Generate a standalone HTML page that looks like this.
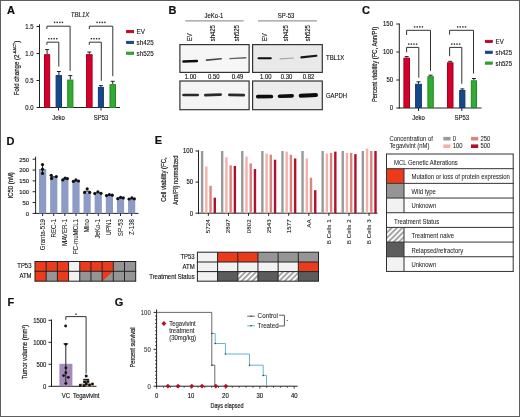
<!DOCTYPE html>
<html><head><meta charset="utf-8"><style>
html,body{margin:0;padding:0;background:#fff;}
#fig{position:relative;width:520px;height:417px;overflow:hidden;background:#fff;}
#fig svg{position:absolute;left:0;top:0;will-change:transform;}
#frame{position:absolute;left:0;top:0;width:518px;height:415px;border:1px solid #5e5e5e;}
text{font-family:"Liberation Sans", sans-serif;}
</style></head><body>
<div id="fig">
<svg width="520" height="417" viewBox="0 0 520 417" font-family="Liberation Sans, sans-serif">
<text x="0" y="0" transform="translate(7.1 14.2)" font-size="11" text-anchor="start" font-weight="bold" font-style="normal" fill="#111" stroke="#111" stroke-width="0.2" >A</text>
<text x="0" y="0" transform="translate(80.1 17.0) scale(0.92 1)" font-size="6.6" text-anchor="middle" font-weight="normal" font-style="italic" fill="#151515" stroke="#151515" stroke-width="0.12" >TBL1X</text>
<line x1="39.5" y1="24.3" x2="39.5" y2="108" stroke="#222" stroke-width="1" />
<line x1="39" y1="107.5" x2="120" y2="107.5" stroke="#222" stroke-width="1" />
<line x1="36.5" y1="107.5" x2="39.5" y2="107.5" stroke="#222" stroke-width="1" />
<text x="0" y="0" transform="translate(33.5 109.5) scale(0.93 1)" font-size="6.4" text-anchor="end" font-weight="normal" font-style="normal" fill="#151515" stroke="#151515" stroke-width="0.14" >0.0</text>
<line x1="36.5" y1="80.5" x2="39.5" y2="80.5" stroke="#222" stroke-width="1" />
<text x="0" y="0" transform="translate(33.5 82.5) scale(0.93 1)" font-size="6.4" text-anchor="end" font-weight="normal" font-style="normal" fill="#151515" stroke="#151515" stroke-width="0.14" >0.5</text>
<line x1="36.5" y1="53.5" x2="39.5" y2="53.5" stroke="#222" stroke-width="1" />
<text x="0" y="0" transform="translate(33.5 55.5) scale(0.93 1)" font-size="6.4" text-anchor="end" font-weight="normal" font-style="normal" fill="#151515" stroke="#151515" stroke-width="0.14" >1.0</text>
<line x1="36.5" y1="26.5" x2="39.5" y2="26.5" stroke="#222" stroke-width="1" />
<text x="0" y="0" transform="translate(33.5 28.5) scale(0.93 1)" font-size="6.4" text-anchor="end" font-weight="normal" font-style="normal" fill="#151515" stroke="#151515" stroke-width="0.14" >1.5</text>
<text x="0" y="0" transform="translate(19.2 68.0) rotate(-90) scale(0.888 1)" font-size="6.9" text-anchor="middle" font-weight="normal" font-style="normal" fill="#222" stroke="#222" stroke-width="0.2" >Fold change (2<tspan font-size="4.4" dy="-2.8">-ΔΔCT</tspan><tspan dy="2.8">)</tspan></text>
<line x1="47.1" y1="54.2" x2="47.1" y2="49.6" stroke="#222" stroke-width="1" />
<line x1="45.1" y1="49.6" x2="49.1" y2="49.6" stroke="#222" stroke-width="1" />
<rect x="44.5" y="54.7" width="5.200000000000003" height="52.8" fill="#d2002a" stroke="#a50020" stroke-width="1" />
<line x1="58.9" y1="75.1" x2="58.9" y2="71.5" stroke="#222" stroke-width="1" />
<line x1="56.9" y1="71.5" x2="60.9" y2="71.5" stroke="#222" stroke-width="1" />
<rect x="56.1" y="75.6" width="5.399999999999999" height="31.900000000000006" fill="#17488c" stroke="#123a72" stroke-width="1" />
<line x1="70.3" y1="79.6" x2="70.3" y2="75.6" stroke="#222" stroke-width="1" />
<line x1="68.3" y1="75.6" x2="72.3" y2="75.6" stroke="#222" stroke-width="1" />
<rect x="67.7" y="80.1" width="5.200000000000003" height="27.400000000000006" fill="#31ab33" stroke="#228a22" stroke-width="1" />
<line x1="89.3" y1="54.2" x2="89.3" y2="52.0" stroke="#222" stroke-width="1" />
<line x1="87.3" y1="52.0" x2="91.3" y2="52.0" stroke="#222" stroke-width="1" />
<rect x="86.5" y="54.7" width="5.599999999999994" height="52.8" fill="#d2002a" stroke="#a50020" stroke-width="1" />
<line x1="100.9" y1="86.9" x2="100.9" y2="85.6" stroke="#222" stroke-width="1" />
<line x1="98.9" y1="85.6" x2="102.9" y2="85.6" stroke="#222" stroke-width="1" />
<rect x="98.4" y="87.4" width="5.0" height="20.099999999999994" fill="#17488c" stroke="#123a72" stroke-width="1" />
<line x1="112.7" y1="84.2" x2="112.7" y2="81.3" stroke="#222" stroke-width="1" />
<line x1="110.7" y1="81.3" x2="114.7" y2="81.3" stroke="#222" stroke-width="1" />
<rect x="110.0" y="84.7" width="5.5" height="22.799999999999997" fill="#31ab33" stroke="#228a22" stroke-width="1" />
<line x1="58.5" y1="107.5" x2="58.5" y2="110.5" stroke="#222" stroke-width="1" />
<line x1="101" y1="107.5" x2="101" y2="110.5" stroke="#222" stroke-width="1" />
<text x="0" y="0" transform="translate(58.5 119.5) scale(0.93 1)" font-size="6.4" text-anchor="middle" font-weight="normal" font-style="normal" fill="#151515" stroke="#151515" stroke-width="0.14" >Jeko</text>
<text x="0" y="0" transform="translate(101 119.5) scale(0.93 1)" font-size="6.4" text-anchor="middle" font-weight="normal" font-style="normal" fill="#151515" stroke="#151515" stroke-width="0.14" >SP53</text>
<path d="M46.9 29.0 V26.2 H70.1 V70.8" stroke="#333" stroke-width="1" fill="none" />
<rect x="53.875" y="21.674999999999997" width="1.45" height="1.45" fill="#333" stroke="none" stroke-width="0" />
<rect x="56.475" y="21.674999999999997" width="1.45" height="1.45" fill="#333" stroke="none" stroke-width="0" />
<rect x="59.075" y="21.674999999999997" width="1.45" height="1.45" fill="#333" stroke="none" stroke-width="0" />
<rect x="61.675000000000004" y="21.674999999999997" width="1.45" height="1.45" fill="#333" stroke="none" stroke-width="0" />
<path d="M46.9 44.8 V42.2 H58.8 V66.5" stroke="#333" stroke-width="1" fill="none" />
<rect x="48.175" y="37.975" width="1.45" height="1.45" fill="#333" stroke="none" stroke-width="0" />
<rect x="50.775" y="37.975" width="1.45" height="1.45" fill="#333" stroke="none" stroke-width="0" />
<rect x="53.375" y="37.975" width="1.45" height="1.45" fill="#333" stroke="none" stroke-width="0" />
<rect x="55.975" y="37.975" width="1.45" height="1.45" fill="#333" stroke="none" stroke-width="0" />
<path d="M89.3 29.0 V26.2 H112.8 V76.2" stroke="#333" stroke-width="1" fill="none" />
<rect x="96.375" y="21.674999999999997" width="1.45" height="1.45" fill="#333" stroke="none" stroke-width="0" />
<rect x="98.975" y="21.674999999999997" width="1.45" height="1.45" fill="#333" stroke="none" stroke-width="0" />
<rect x="101.575" y="21.674999999999997" width="1.45" height="1.45" fill="#333" stroke="none" stroke-width="0" />
<rect x="104.175" y="21.674999999999997" width="1.45" height="1.45" fill="#333" stroke="none" stroke-width="0" />
<path d="M89.3 44.8 V42.2 H101.3 V80.8" stroke="#333" stroke-width="1" fill="none" />
<rect x="90.675" y="37.975" width="1.45" height="1.45" fill="#333" stroke="none" stroke-width="0" />
<rect x="93.27499999999999" y="37.975" width="1.45" height="1.45" fill="#333" stroke="none" stroke-width="0" />
<rect x="95.875" y="37.975" width="1.45" height="1.45" fill="#333" stroke="none" stroke-width="0" />
<rect x="98.475" y="37.975" width="1.45" height="1.45" fill="#333" stroke="none" stroke-width="0" />
<rect x="126.6" y="30.5" width="7" height="2.2" fill="#d2002a" stroke="#a50020" stroke-width="0.8" />
<text x="0" y="0" transform="translate(136.6 34.0) scale(0.95 1)" font-size="6.6" text-anchor="start" font-weight="normal" font-style="normal" fill="#151515" stroke="#151515" stroke-width="0.12" >EV</text>
<rect x="126.6" y="41.300000000000004" width="7" height="2.2" fill="#17488c" stroke="#123a72" stroke-width="0.8" />
<text x="0" y="0" transform="translate(136.6 44.800000000000004) scale(0.95 1)" font-size="6.6" text-anchor="start" font-weight="normal" font-style="normal" fill="#151515" stroke="#151515" stroke-width="0.12" >sh425</text>
<rect x="126.6" y="52.1" width="7" height="2.2" fill="#31ab33" stroke="#228a22" stroke-width="0.8" />
<text x="0" y="0" transform="translate(136.6 55.6) scale(0.95 1)" font-size="6.6" text-anchor="start" font-weight="normal" font-style="normal" fill="#151515" stroke="#151515" stroke-width="0.12" >sh525</text>
<text x="0" y="0" transform="translate(168.55 14.0)" font-size="11" text-anchor="start" font-weight="bold" font-style="normal" fill="#111" stroke="#111" stroke-width="0.2" >B</text>
<defs><filter id="bl" filterUnits="userSpaceOnUse" x="0" y="0" width="520" height="417"><feGaussianBlur stdDeviation="0.4"/></filter></defs>
<text x="0" y="0" transform="translate(214 17.8) scale(0.93 1)" font-size="6.4" text-anchor="middle" font-weight="normal" font-style="normal" fill="#151515" stroke="#151515" stroke-width="0.14" >JeKo-1</text>
<line x1="185.3" y1="20.8" x2="243.7" y2="20.8" stroke="#999" stroke-width="1.2" />
<text x="0" y="0" transform="translate(192.1 41.3) rotate(-90) scale(0.93 1)" font-size="6.4" text-anchor="start" font-weight="normal" font-style="normal" fill="#151515" stroke="#151515" stroke-width="0.14" >EV</text>
<text x="0" y="0" transform="translate(215.4 41.3) rotate(-90) scale(0.93 1)" font-size="6.4" text-anchor="start" font-weight="normal" font-style="normal" fill="#151515" stroke="#151515" stroke-width="0.14" >sh425</text>
<text x="0" y="0" transform="translate(239.1 41.3) rotate(-90) scale(0.93 1)" font-size="6.4" text-anchor="start" font-weight="normal" font-style="normal" fill="#151515" stroke="#151515" stroke-width="0.14" >sh525</text>
<rect x="179.9" y="44.6" width="69.19999999999997" height="27.8" fill="#f6f6f6" stroke="#333" stroke-width="1.2" />
<rect x="179.9" y="81.0" width="69.19999999999997" height="28.7" fill="#f4f4f4" stroke="#333" stroke-width="1.2" />
<text x="0" y="0" transform="translate(190.5 79.3) scale(0.93 1)" font-size="6.4" text-anchor="middle" font-weight="normal" font-style="normal" fill="#151515" stroke="#151515" stroke-width="0.14" >1.00</text>
<text x="0" y="0" transform="translate(213.8 79.3) scale(0.93 1)" font-size="6.4" text-anchor="middle" font-weight="normal" font-style="normal" fill="#151515" stroke="#151515" stroke-width="0.14" >0.50</text>
<text x="0" y="0" transform="translate(237.5 79.3) scale(0.93 1)" font-size="6.4" text-anchor="middle" font-weight="normal" font-style="normal" fill="#151515" stroke="#151515" stroke-width="0.14" >0.49</text>
<path d="M183.45 61.4 L196.85 61.0" stroke="#111" stroke-width="2.5" stroke-linecap="round" fill="none" filter="url(#bl)"/>
<path d="M206.5 60.1 L221.2 58.8" stroke="#4a4a4a" stroke-width="1.6" stroke-linecap="round" fill="none" filter="url(#bl)"/>
<path d="M229.89999999999998 58.6 L245.8 57.8" stroke="#606060" stroke-width="1.4" stroke-linecap="round" fill="none" filter="url(#bl)"/>
<path d="M183.54999999999998 95.0 L197.65 95.0" stroke="#2a2a2a" stroke-width="2.7" stroke-linecap="round" fill="none" filter="url(#bl)"/>
<path d="M205.35 95.1 L220.65 94.6" stroke="#2a2a2a" stroke-width="2.7" stroke-linecap="round" fill="none" filter="url(#bl)"/>
<path d="M229.35 94.9 L243.75 95.2" stroke="#2a2a2a" stroke-width="2.7" stroke-linecap="round" fill="none" filter="url(#bl)"/>
<text x="0" y="0" transform="translate(286 17.8) scale(0.93 1)" font-size="6.4" text-anchor="middle" font-weight="normal" font-style="normal" fill="#151515" stroke="#151515" stroke-width="0.14" >SP-53</text>
<line x1="258.0" y1="20.8" x2="316.9" y2="20.8" stroke="#999" stroke-width="1.2" />
<text x="0" y="0" transform="translate(267.40000000000003 41.3) rotate(-90) scale(0.93 1)" font-size="6.4" text-anchor="start" font-weight="normal" font-style="normal" fill="#151515" stroke="#151515" stroke-width="0.14" >EV</text>
<text x="0" y="0" transform="translate(288.1 41.3) rotate(-90) scale(0.93 1)" font-size="6.4" text-anchor="start" font-weight="normal" font-style="normal" fill="#151515" stroke="#151515" stroke-width="0.14" >sh425</text>
<text x="0" y="0" transform="translate(310.1 41.3) rotate(-90) scale(0.93 1)" font-size="6.4" text-anchor="start" font-weight="normal" font-style="normal" fill="#151515" stroke="#151515" stroke-width="0.14" >sh525</text>
<rect x="252.6" y="44.6" width="69.69999999999997" height="27.8" fill="#e9e9e9" stroke="#333" stroke-width="1.2" />
<rect x="252.6" y="81.0" width="69.69999999999997" height="28.7" fill="#ececec" stroke="#333" stroke-width="1.2" />
<text x="0" y="0" transform="translate(265.8 79.3) scale(0.93 1)" font-size="6.4" text-anchor="middle" font-weight="normal" font-style="normal" fill="#151515" stroke="#151515" stroke-width="0.14" >1.00</text>
<text x="0" y="0" transform="translate(286.5 79.3) scale(0.93 1)" font-size="6.4" text-anchor="middle" font-weight="normal" font-style="normal" fill="#151515" stroke="#151515" stroke-width="0.14" >0.30</text>
<text x="0" y="0" transform="translate(308.5 79.3) scale(0.93 1)" font-size="6.4" text-anchor="middle" font-weight="normal" font-style="normal" fill="#151515" stroke="#151515" stroke-width="0.14" >0.82</text>
<path d="M258.45 58.3 L270.85 58.3" stroke="#111" stroke-width="1.9" stroke-linecap="round" fill="none" filter="url(#bl)"/>
<path d="M280.0 58.8 L293.4 58.0" stroke="#a5a5a5" stroke-width="1.2" stroke-linecap="round" fill="none" filter="url(#bl)"/>
<path d="M301.35 57.4 L316.34999999999997 55.8" stroke="#151515" stroke-width="2.1" stroke-linecap="round" fill="none" filter="url(#bl)"/>
<path d="M257.75 96.6 L271.34999999999997 96.5" stroke="#111" stroke-width="3.7" stroke-linecap="round" fill="none" filter="url(#bl)"/>
<path d="M279.5 96.2 L292.2 95.9" stroke="#111" stroke-width="3.6" stroke-linecap="round" fill="none" filter="url(#bl)"/>
<path d="M300.7 95.7 L316.0 95.1" stroke="#0c0c0c" stroke-width="4.0" stroke-linecap="round" fill="none" filter="url(#bl)"/>
<text x="0" y="0" transform="translate(326.0 60.2) scale(0.93 1)" font-size="6.4" text-anchor="start" font-weight="normal" font-style="normal" fill="#151515" stroke="#151515" stroke-width="0.14" >TBL1X</text>
<text x="0" y="0" transform="translate(326.0 97.6) scale(0.93 1)" font-size="6.4" text-anchor="start" font-weight="normal" font-style="normal" fill="#151515" stroke="#151515" stroke-width="0.14" >GAPDH</text>
<text x="0" y="0" transform="translate(362.05 14.0)" font-size="11" text-anchor="start" font-weight="bold" font-style="normal" fill="#111" stroke="#111" stroke-width="0.2" >C</text>
<line x1="399.3" y1="23.5" x2="399.3" y2="108.5" stroke="#222" stroke-width="1" />
<line x1="398.8" y1="108" x2="481.5" y2="108" stroke="#222" stroke-width="1" />
<line x1="396.3" y1="108.0" x2="399.3" y2="108.0" stroke="#222" stroke-width="1" />
<text x="0" y="0" transform="translate(393.0 110.4) scale(0.93 1)" font-size="6.4" text-anchor="end" font-weight="normal" font-style="normal" fill="#151515" stroke="#151515" stroke-width="0.14" >0</text>
<line x1="396.3" y1="80.0" x2="399.3" y2="80.0" stroke="#222" stroke-width="1" />
<text x="0" y="0" transform="translate(393.0 82.4) scale(0.93 1)" font-size="6.4" text-anchor="end" font-weight="normal" font-style="normal" fill="#151515" stroke="#151515" stroke-width="0.14" >50</text>
<line x1="396.3" y1="51.99999999999999" x2="399.3" y2="51.99999999999999" stroke="#222" stroke-width="1" />
<text x="0" y="0" transform="translate(393.0 54.39999999999999) scale(0.93 1)" font-size="6.4" text-anchor="end" font-weight="normal" font-style="normal" fill="#151515" stroke="#151515" stroke-width="0.14" >100</text>
<line x1="396.3" y1="23.999999999999986" x2="399.3" y2="23.999999999999986" stroke="#222" stroke-width="1" />
<text x="0" y="0" transform="translate(393.0 26.399999999999984) scale(0.93 1)" font-size="6.4" text-anchor="end" font-weight="normal" font-style="normal" fill="#151515" stroke="#151515" stroke-width="0.14" >150</text>
<text x="0" y="0" transform="translate(376.6 64.5) rotate(-90) scale(0.855 1)" font-size="6.9" text-anchor="middle" font-weight="normal" font-style="normal" fill="#222" stroke="#222" stroke-width="0.2" >Percent viability (FC, Ann/PI)</text>
<line x1="406.7" y1="57.7" x2="406.7" y2="56.6" stroke="#222" stroke-width="1" />
<line x1="404.7" y1="56.6" x2="408.7" y2="56.6" stroke="#222" stroke-width="1" />
<rect x="403.9" y="58.2" width="5.600000000000023" height="49.3" fill="#d2002a" stroke="#a50020" stroke-width="1" />
<line x1="418.5" y1="83.8" x2="418.5" y2="81.8" stroke="#222" stroke-width="1" />
<line x1="416.5" y1="81.8" x2="420.5" y2="81.8" stroke="#222" stroke-width="1" />
<rect x="415.6" y="84.3" width="5.7999999999999545" height="23.200000000000003" fill="#17488c" stroke="#123a72" stroke-width="1" />
<line x1="430.6" y1="76.2" x2="430.6" y2="75.2" stroke="#222" stroke-width="1" />
<line x1="428.6" y1="75.2" x2="432.6" y2="75.2" stroke="#222" stroke-width="1" />
<rect x="427.9" y="76.7" width="5.400000000000034" height="30.799999999999997" fill="#31ab33" stroke="#228a22" stroke-width="1" />
<line x1="450.2" y1="62.3" x2="450.2" y2="61.3" stroke="#222" stroke-width="1" />
<line x1="448.2" y1="61.3" x2="452.2" y2="61.3" stroke="#222" stroke-width="1" />
<rect x="447.5" y="62.8" width="5.5" height="44.7" fill="#d2002a" stroke="#a50020" stroke-width="1" />
<line x1="462.3" y1="90.0" x2="462.3" y2="88.9" stroke="#222" stroke-width="1" />
<line x1="460.3" y1="88.9" x2="464.3" y2="88.9" stroke="#222" stroke-width="1" />
<rect x="459.7" y="90.5" width="5.199999999999989" height="17.0" fill="#17488c" stroke="#123a72" stroke-width="1" />
<line x1="473.9" y1="80.3" x2="473.9" y2="78.5" stroke="#222" stroke-width="1" />
<line x1="471.9" y1="78.5" x2="475.9" y2="78.5" stroke="#222" stroke-width="1" />
<rect x="471.3" y="80.8" width="5.199999999999989" height="26.700000000000003" fill="#31ab33" stroke="#228a22" stroke-width="1" />
<line x1="418.5" y1="108" x2="418.5" y2="111" stroke="#222" stroke-width="1" />
<line x1="461.8" y1="108" x2="461.8" y2="111" stroke="#222" stroke-width="1" />
<text x="0" y="0" transform="translate(418.5 119.8) scale(0.93 1)" font-size="6.4" text-anchor="middle" font-weight="normal" font-style="normal" fill="#151515" stroke="#151515" stroke-width="0.14" >Jeko</text>
<text x="0" y="0" transform="translate(461.8 119.8) scale(0.93 1)" font-size="6.4" text-anchor="middle" font-weight="normal" font-style="normal" fill="#151515" stroke="#151515" stroke-width="0.14" >SP53</text>
<path d="M406.6 35 V30.3 H430.5 V70.8" stroke="#333" stroke-width="1" fill="none" />
<rect x="413.875" y="26.174999999999997" width="1.45" height="1.45" fill="#333" stroke="none" stroke-width="0" />
<rect x="416.475" y="26.174999999999997" width="1.45" height="1.45" fill="#333" stroke="none" stroke-width="0" />
<rect x="419.075" y="26.174999999999997" width="1.45" height="1.45" fill="#333" stroke="none" stroke-width="0" />
<rect x="421.675" y="26.174999999999997" width="1.45" height="1.45" fill="#333" stroke="none" stroke-width="0" />
<path d="M406.6 52.3 V47.4 H418.8 V77.7" stroke="#333" stroke-width="1" fill="none" />
<rect x="408.075" y="43.375" width="1.45" height="1.45" fill="#333" stroke="none" stroke-width="0" />
<rect x="410.675" y="43.375" width="1.45" height="1.45" fill="#333" stroke="none" stroke-width="0" />
<rect x="413.275" y="43.375" width="1.45" height="1.45" fill="#333" stroke="none" stroke-width="0" />
<rect x="415.875" y="43.375" width="1.45" height="1.45" fill="#333" stroke="none" stroke-width="0" />
<path d="M449.6 34.6 V30.3 H473.5 V73.5" stroke="#333" stroke-width="1" fill="none" />
<rect x="456.975" y="26.174999999999997" width="1.45" height="1.45" fill="#333" stroke="none" stroke-width="0" />
<rect x="459.57500000000005" y="26.174999999999997" width="1.45" height="1.45" fill="#333" stroke="none" stroke-width="0" />
<rect x="462.175" y="26.174999999999997" width="1.45" height="1.45" fill="#333" stroke="none" stroke-width="0" />
<rect x="464.77500000000003" y="26.174999999999997" width="1.45" height="1.45" fill="#333" stroke="none" stroke-width="0" />
<path d="M449.6 56.2 V47.4 H461.8 V83.8" stroke="#333" stroke-width="1" fill="none" />
<rect x="451.075" y="43.375" width="1.45" height="1.45" fill="#333" stroke="none" stroke-width="0" />
<rect x="453.675" y="43.375" width="1.45" height="1.45" fill="#333" stroke="none" stroke-width="0" />
<rect x="456.275" y="43.375" width="1.45" height="1.45" fill="#333" stroke="none" stroke-width="0" />
<rect x="458.875" y="43.375" width="1.45" height="1.45" fill="#333" stroke="none" stroke-width="0" />
<rect x="485.5" y="40.3" width="6.8" height="2.2" fill="#d2002a" stroke="#a50020" stroke-width="0.8" />
<text x="0" y="0" transform="translate(495.6 43.8) scale(0.92 1)" font-size="6.6" text-anchor="start" font-weight="normal" font-style="normal" fill="#151515" stroke="#151515" stroke-width="0.12" >EV</text>
<rect x="485.5" y="51.15" width="6.8" height="2.2" fill="#17488c" stroke="#123a72" stroke-width="0.8" />
<text x="0" y="0" transform="translate(495.6 54.65) scale(0.92 1)" font-size="6.6" text-anchor="start" font-weight="normal" font-style="normal" fill="#151515" stroke="#151515" stroke-width="0.12" >sh425</text>
<rect x="485.5" y="61.99999999999999" width="6.8" height="2.2" fill="#31ab33" stroke="#228a22" stroke-width="0.8" />
<text x="0" y="0" transform="translate(495.6 65.5) scale(0.92 1)" font-size="6.6" text-anchor="start" font-weight="normal" font-style="normal" fill="#151515" stroke="#151515" stroke-width="0.12" >sh525</text>
<text x="0" y="0" transform="translate(6.55 144.7)" font-size="11" text-anchor="start" font-weight="bold" font-style="normal" fill="#111" stroke="#111" stroke-width="0.2" >D</text>
<line x1="35.6" y1="156.7" x2="35.6" y2="213.9" stroke="#222" stroke-width="1" />
<line x1="35.1" y1="213.4" x2="138.5" y2="213.4" stroke="#222" stroke-width="1" />
<line x1="32.6" y1="213.4" x2="35.6" y2="213.4" stroke="#222" stroke-width="1" />
<text x="0" y="0" transform="translate(29.0 215.8) scale(0.97 1)" font-size="6.1" text-anchor="end" font-weight="normal" font-style="normal" fill="#151515" stroke="#151515" stroke-width="0.14" >0</text>
<line x1="32.6" y1="202.56" x2="35.6" y2="202.56" stroke="#222" stroke-width="1" />
<text x="0" y="0" transform="translate(29.0 204.96) scale(0.97 1)" font-size="6.1" text-anchor="end" font-weight="normal" font-style="normal" fill="#151515" stroke="#151515" stroke-width="0.14" >50</text>
<line x1="32.6" y1="191.72" x2="35.6" y2="191.72" stroke="#222" stroke-width="1" />
<text x="0" y="0" transform="translate(29.0 194.12) scale(0.97 1)" font-size="6.1" text-anchor="end" font-weight="normal" font-style="normal" fill="#151515" stroke="#151515" stroke-width="0.14" >100</text>
<line x1="32.6" y1="180.88" x2="35.6" y2="180.88" stroke="#222" stroke-width="1" />
<text x="0" y="0" transform="translate(29.0 183.28) scale(0.97 1)" font-size="6.1" text-anchor="end" font-weight="normal" font-style="normal" fill="#151515" stroke="#151515" stroke-width="0.14" >150</text>
<line x1="32.6" y1="170.04" x2="35.6" y2="170.04" stroke="#222" stroke-width="1" />
<text x="0" y="0" transform="translate(29.0 172.44) scale(0.97 1)" font-size="6.1" text-anchor="end" font-weight="normal" font-style="normal" fill="#151515" stroke="#151515" stroke-width="0.14" >200</text>
<line x1="32.6" y1="159.2" x2="35.6" y2="159.2" stroke="#222" stroke-width="1" />
<text x="0" y="0" transform="translate(29.0 161.6) scale(0.97 1)" font-size="6.1" text-anchor="end" font-weight="normal" font-style="normal" fill="#151515" stroke="#151515" stroke-width="0.14" >250</text>
<text x="0" y="0" transform="translate(12.8 185.3) rotate(-90) scale(0.855 1)" font-size="6.9" text-anchor="middle" font-weight="normal" font-style="normal" fill="#222" stroke="#222" stroke-width="0.2" >IC50 (nM)</text>
<rect x="39.0" y="169.0" width="7.2" height="44.400000000000006" fill="#8d9cc7" stroke="none" stroke-width="0" />
<line x1="42.6" y1="213.4" x2="42.6" y2="216" stroke="#222" stroke-width="1" />
<text x="0" y="0" transform="translate(44.6 219.0) rotate(-90) scale(0.95 1)" font-size="6.5" text-anchor="end" font-weight="normal" font-style="normal" fill="#151515" stroke="#151515" stroke-width="0.05" >Granta-519</text>
<line x1="42.5" y1="164.6" x2="42.5" y2="173.4" stroke="#111" stroke-width="0.9" />
<circle cx="42.5" cy="164.6" r="1.6" fill="#111"/>
<circle cx="42.5" cy="169.2" r="1.6" fill="#111"/>
<circle cx="42.5" cy="173.4" r="1.6" fill="#111"/>
<rect x="50.13" y="176.8" width="7.2" height="36.599999999999994" fill="#8d9cc7" stroke="none" stroke-width="0" />
<line x1="53.730000000000004" y1="213.4" x2="53.730000000000004" y2="216" stroke="#222" stroke-width="1" />
<text x="0" y="0" transform="translate(55.730000000000004 219.0) rotate(-90) scale(0.95 1)" font-size="6.5" text-anchor="end" font-weight="normal" font-style="normal" fill="#151515" stroke="#151515" stroke-width="0.05" >REC-1</text>
<line x1="51.2" y1="176.76666666666665" x2="56.3" y2="176.76666666666665" stroke="#111" stroke-width="0.9" />
<circle cx="51.2" cy="175.3" r="1.6" fill="#111"/>
<circle cx="56.3" cy="176.6" r="1.6" fill="#111"/>
<circle cx="51.6" cy="178.4" r="1.6" fill="#111"/>
<rect x="61.260000000000005" y="179.2" width="7.2" height="34.20000000000002" fill="#8d9cc7" stroke="none" stroke-width="0" />
<line x1="64.86" y1="213.4" x2="64.86" y2="216" stroke="#222" stroke-width="1" />
<text x="0" y="0" transform="translate(66.86 219.0) rotate(-90) scale(0.95 1)" font-size="6.5" text-anchor="end" font-weight="normal" font-style="normal" fill="#151515" stroke="#151515" stroke-width="0.05" >MAVER-1</text>
<line x1="62.8" y1="178.86666666666667" x2="67.4" y2="178.86666666666667" stroke="#111" stroke-width="0.9" />
<circle cx="62.8" cy="179.9" r="1.6" fill="#111"/>
<circle cx="65.1" cy="178.1" r="1.6" fill="#111"/>
<circle cx="67.4" cy="178.6" r="1.6" fill="#111"/>
<rect x="72.39" y="180.7" width="7.2" height="32.70000000000002" fill="#8d9cc7" stroke="none" stroke-width="0" />
<line x1="75.99" y1="213.4" x2="75.99" y2="216" stroke="#222" stroke-width="1" />
<text x="0" y="0" transform="translate(77.99 219.0) rotate(-90) scale(0.95 1)" font-size="6.5" text-anchor="end" font-weight="normal" font-style="normal" fill="#151515" stroke="#151515" stroke-width="0.05" >FC-muMCL1</text>
<line x1="73.4" y1="180.76666666666665" x2="78.5" y2="180.76666666666665" stroke="#111" stroke-width="0.9" />
<circle cx="73.4" cy="181.4" r="1.6" fill="#111"/>
<circle cx="75.9" cy="179.9" r="1.6" fill="#111"/>
<circle cx="78.5" cy="181.0" r="1.6" fill="#111"/>
<rect x="83.52000000000001" y="192.5" width="7.2" height="20.900000000000006" fill="#8d9cc7" stroke="none" stroke-width="0" />
<line x1="87.12" y1="213.4" x2="87.12" y2="216" stroke="#222" stroke-width="1" />
<text x="0" y="0" transform="translate(89.12 219.0) rotate(-90) scale(0.95 1)" font-size="6.5" text-anchor="end" font-weight="normal" font-style="normal" fill="#151515" stroke="#151515" stroke-width="0.05" >Mino</text>
<line x1="84.6" y1="191.20000000000002" x2="89.7" y2="191.20000000000002" stroke="#111" stroke-width="0.9" />
<circle cx="87.2" cy="188.8" r="1.6" fill="#111"/>
<circle cx="84.6" cy="192.4" r="1.6" fill="#111"/>
<circle cx="89.7" cy="192.4" r="1.6" fill="#111"/>
<rect x="94.65" y="194.1" width="7.2" height="19.30000000000001" fill="#8d9cc7" stroke="none" stroke-width="0" />
<line x1="98.25" y1="213.4" x2="98.25" y2="216" stroke="#222" stroke-width="1" />
<text x="0" y="0" transform="translate(100.25 219.0) rotate(-90) scale(0.95 1)" font-size="6.5" text-anchor="end" font-weight="normal" font-style="normal" fill="#151515" stroke="#151515" stroke-width="0.05" >JeKo-1</text>
<line x1="94.8" y1="192.9333333333333" x2="101.0" y2="192.9333333333333" stroke="#111" stroke-width="0.9" />
<circle cx="94.8" cy="193.6" r="1.6" fill="#111"/>
<circle cx="97.9" cy="191.9" r="1.6" fill="#111"/>
<circle cx="101.0" cy="193.3" r="1.6" fill="#111"/>
<rect x="105.78" y="195.8" width="7.2" height="17.599999999999994" fill="#8d9cc7" stroke="none" stroke-width="0" />
<line x1="109.38" y1="213.4" x2="109.38" y2="216" stroke="#222" stroke-width="1" />
<text x="0" y="0" transform="translate(111.38 219.0) rotate(-90) scale(0.95 1)" font-size="6.5" text-anchor="end" font-weight="normal" font-style="normal" fill="#151515" stroke="#151515" stroke-width="0.05" >UPN1</text>
<line x1="106.5" y1="195.13333333333333" x2="112.3" y2="195.13333333333333" stroke="#111" stroke-width="0.9" />
<circle cx="106.5" cy="195.6" r="1.6" fill="#111"/>
<circle cx="109.4" cy="194.6" r="1.6" fill="#111"/>
<circle cx="112.3" cy="195.2" r="1.6" fill="#111"/>
<rect x="116.91000000000001" y="198.4" width="7.2" height="15.0" fill="#8d9cc7" stroke="none" stroke-width="0" />
<line x1="120.51" y1="213.4" x2="120.51" y2="216" stroke="#222" stroke-width="1" />
<text x="0" y="0" transform="translate(122.51 219.0) rotate(-90) scale(0.95 1)" font-size="6.5" text-anchor="end" font-weight="normal" font-style="normal" fill="#151515" stroke="#151515" stroke-width="0.05" >SP-53</text>
<line x1="117.8" y1="197.96666666666667" x2="123.3" y2="197.96666666666667" stroke="#111" stroke-width="0.9" />
<circle cx="117.8" cy="198.7" r="1.6" fill="#111"/>
<circle cx="120.6" cy="197.3" r="1.6" fill="#111"/>
<circle cx="123.3" cy="197.9" r="1.6" fill="#111"/>
<rect x="128.04000000000002" y="199.0" width="7.2" height="14.400000000000006" fill="#8d9cc7" stroke="none" stroke-width="0" />
<line x1="131.64000000000001" y1="213.4" x2="131.64000000000001" y2="216" stroke="#222" stroke-width="1" />
<text x="0" y="0" transform="translate(133.64000000000001 219.0) rotate(-90) scale(0.95 1)" font-size="6.5" text-anchor="end" font-weight="normal" font-style="normal" fill="#151515" stroke="#151515" stroke-width="0.05" >Z-138</text>
<line x1="129.0" y1="198.5666666666667" x2="134.4" y2="198.5666666666667" stroke="#111" stroke-width="0.9" />
<circle cx="129.0" cy="199.0" r="1.6" fill="#111"/>
<circle cx="131.9" cy="197.9" r="1.6" fill="#111"/>
<circle cx="134.4" cy="198.8" r="1.6" fill="#111"/>
<rect x="35.0" y="261.5" width="11.188888888888888" height="9.800000000000011" fill="#ec3a1c" stroke="none" stroke-width="0" />
<rect x="46.18888888888889" y="261.5" width="11.188888888888888" height="9.800000000000011" fill="#ec3a1c" stroke="none" stroke-width="0" />
<rect x="57.37777777777778" y="261.5" width="11.188888888888888" height="9.800000000000011" fill="#ec3a1c" stroke="none" stroke-width="0" />
<rect x="68.56666666666666" y="261.5" width="11.188888888888888" height="9.800000000000011" fill="#f2f2f2" stroke="none" stroke-width="0" />
<rect x="79.75555555555556" y="261.5" width="11.188888888888888" height="9.800000000000011" fill="#ec3a1c" stroke="none" stroke-width="0" />
<rect x="90.94444444444444" y="261.5" width="11.188888888888888" height="9.800000000000011" fill="#ec3a1c" stroke="none" stroke-width="0" />
<rect x="102.13333333333333" y="261.5" width="11.188888888888888" height="9.800000000000011" fill="#ec3a1c" stroke="none" stroke-width="0" />
<rect x="113.32222222222222" y="261.5" width="11.188888888888888" height="9.800000000000011" fill="#959595" stroke="none" stroke-width="0" />
<rect x="124.5111111111111" y="261.5" width="11.188888888888888" height="9.800000000000011" fill="#959595" stroke="none" stroke-width="0" />
<rect x="35.0" y="271.3" width="11.188888888888888" height="9.899999999999977" fill="#ec3a1c" stroke="none" stroke-width="0" />
<rect x="46.18888888888889" y="271.3" width="11.188888888888888" height="9.899999999999977" fill="#959595" stroke="none" stroke-width="0" />
<rect x="57.37777777777778" y="271.3" width="11.188888888888888" height="9.899999999999977" fill="#ec3a1c" stroke="none" stroke-width="0" />
<rect x="68.56666666666666" y="271.3" width="11.188888888888888" height="9.899999999999977" fill="#f2f2f2" stroke="none" stroke-width="0" />
<rect x="79.75555555555556" y="271.3" width="11.188888888888888" height="9.899999999999977" fill="#959595" stroke="none" stroke-width="0" />
<rect x="90.94444444444444" y="271.3" width="11.188888888888888" height="9.899999999999977" fill="#959595" stroke="none" stroke-width="0" />
<rect x="102.13333333333333" y="271.3" width="11.188888888888888" height="9.899999999999977" fill="#959595" stroke="none" stroke-width="0" />
<polygon points="102.13333333333333,271.3 113.32222222222221,271.3 102.13333333333333,281.2" fill="#ec3a1c"/>
<rect x="113.32222222222222" y="271.3" width="11.188888888888888" height="9.899999999999977" fill="#959595" stroke="none" stroke-width="0" />
<rect x="124.5111111111111" y="271.3" width="11.188888888888888" height="9.899999999999977" fill="#959595" stroke="none" stroke-width="0" />
<line x1="34.5" y1="261.5" x2="136.2" y2="261.5" stroke="#222" stroke-width="1" />
<line x1="34.5" y1="271.3" x2="136.2" y2="271.3" stroke="#222" stroke-width="1" />
<line x1="34.5" y1="281.2" x2="136.2" y2="281.2" stroke="#222" stroke-width="1" />
<line x1="35.0" y1="261.5" x2="35.0" y2="281.2" stroke="#222" stroke-width="1" />
<line x1="46.18888888888889" y1="261.5" x2="46.18888888888889" y2="281.2" stroke="#222" stroke-width="1" />
<line x1="57.37777777777778" y1="261.5" x2="57.37777777777778" y2="281.2" stroke="#222" stroke-width="1" />
<line x1="68.56666666666666" y1="261.5" x2="68.56666666666666" y2="281.2" stroke="#222" stroke-width="1" />
<line x1="79.75555555555556" y1="261.5" x2="79.75555555555556" y2="281.2" stroke="#222" stroke-width="1" />
<line x1="90.94444444444444" y1="261.5" x2="90.94444444444444" y2="281.2" stroke="#222" stroke-width="1" />
<line x1="102.13333333333333" y1="261.5" x2="102.13333333333333" y2="281.2" stroke="#222" stroke-width="1" />
<line x1="113.32222222222222" y1="261.5" x2="113.32222222222222" y2="281.2" stroke="#222" stroke-width="1" />
<line x1="124.5111111111111" y1="261.5" x2="124.5111111111111" y2="281.2" stroke="#222" stroke-width="1" />
<line x1="135.7" y1="261.5" x2="135.7" y2="281.2" stroke="#222" stroke-width="1" />
<text x="0" y="0" transform="translate(31.5 268.4) scale(0.93 1)" font-size="6.4" text-anchor="end" font-weight="normal" font-style="normal" fill="#151515" stroke="#151515" stroke-width="0.14" >TP53</text>
<text x="0" y="0" transform="translate(31.5 278.3) scale(0.93 1)" font-size="6.4" text-anchor="end" font-weight="normal" font-style="normal" fill="#151515" stroke="#151515" stroke-width="0.14" >ATM</text>
<text x="0" y="0" transform="translate(154.75 144.4)" font-size="11" text-anchor="start" font-weight="bold" font-style="normal" fill="#111" stroke="#111" stroke-width="0.2" >E</text>
<line x1="198.5" y1="150.3" x2="198.5" y2="213.7" stroke="#222" stroke-width="1" />
<line x1="198" y1="213.2" x2="377.5" y2="213.2" stroke="#222" stroke-width="1" />
<line x1="195.5" y1="213.2" x2="198.5" y2="213.2" stroke="#222" stroke-width="1" />
<text x="0" y="0" transform="translate(193.0 215.5) scale(0.93 1)" font-size="6.4" text-anchor="end" font-weight="normal" font-style="normal" fill="#151515" stroke="#151515" stroke-width="0.14" >0</text>
<line x1="195.5" y1="182.1" x2="198.5" y2="182.1" stroke="#222" stroke-width="1" />
<text x="0" y="0" transform="translate(193.0 184.4) scale(0.93 1)" font-size="6.4" text-anchor="end" font-weight="normal" font-style="normal" fill="#151515" stroke="#151515" stroke-width="0.14" >50</text>
<line x1="195.5" y1="151.0" x2="198.5" y2="151.0" stroke="#222" stroke-width="1" />
<text x="0" y="0" transform="translate(193.0 153.3) scale(0.93 1)" font-size="6.4" text-anchor="end" font-weight="normal" font-style="normal" fill="#151515" stroke="#151515" stroke-width="0.14" >100</text>
<text x="0" y="0" transform="translate(166.0 179.6) rotate(-90) scale(0.86 1)" font-size="6.9" text-anchor="middle" font-weight="normal" font-style="normal" fill="#222" stroke="#222" stroke-width="0.2" >Cell viability (FC,</text>
<text x="0" y="0" transform="translate(178.2 180.2) rotate(-90) scale(0.845 1)" font-size="6.9" text-anchor="middle" font-weight="normal" font-style="normal" fill="#222" stroke="#222" stroke-width="0.2" >Ann/PI) normalized</text>
<rect x="200.9" y="151.0" width="2.4" height="62.19999999999999" fill="#999999" stroke="none" stroke-width="0" />
<rect x="205.13" y="166.54999999999998" width="2.4" height="46.650000000000006" fill="#f0b2aa" stroke="none" stroke-width="0" />
<rect x="209.36" y="185.832" width="2.4" height="27.367999999999995" fill="#da8580" stroke="none" stroke-width="0" />
<rect x="213.59" y="197.64999999999998" width="2.4" height="15.550000000000011" fill="#b0102e" stroke="none" stroke-width="0" />
<line x1="208.35" y1="213.2" x2="208.35" y2="215.8" stroke="#222" stroke-width="1" />
<text x="0" y="0" transform="translate(210.35 219.4) rotate(-90)" font-size="6.2" text-anchor="end" font-weight="normal" font-style="normal" fill="#151515" stroke="#151515" stroke-width="0.06" >5724</text>
<rect x="220.99" y="151.0" width="2.4" height="62.19999999999999" fill="#999999" stroke="none" stroke-width="0" />
<rect x="225.22" y="157.22" width="2.4" height="55.97999999999999" fill="#f0b2aa" stroke="none" stroke-width="0" />
<rect x="229.45000000000002" y="165.30599999999998" width="2.4" height="47.894000000000005" fill="#da8580" stroke="none" stroke-width="0" />
<rect x="233.68" y="165.928" width="2.4" height="47.27199999999999" fill="#b0102e" stroke="none" stroke-width="0" />
<line x1="228.44" y1="213.2" x2="228.44" y2="215.8" stroke="#222" stroke-width="1" />
<text x="0" y="0" transform="translate(230.44 219.4) rotate(-90)" font-size="6.2" text-anchor="end" font-weight="normal" font-style="normal" fill="#151515" stroke="#151515" stroke-width="0.06" >2897</text>
<rect x="241.08" y="151.0" width="2.4" height="62.19999999999999" fill="#999999" stroke="none" stroke-width="0" />
<rect x="245.31" y="156.59799999999998" width="2.4" height="56.602000000000004" fill="#f0b2aa" stroke="none" stroke-width="0" />
<rect x="249.54000000000002" y="163.44" width="2.4" height="49.75999999999999" fill="#da8580" stroke="none" stroke-width="0" />
<rect x="253.77" y="169.03799999999998" width="2.4" height="44.162000000000006" fill="#b0102e" stroke="none" stroke-width="0" />
<line x1="248.53" y1="213.2" x2="248.53" y2="215.8" stroke="#222" stroke-width="1" />
<text x="0" y="0" transform="translate(250.53 219.4) rotate(-90)" font-size="6.2" text-anchor="end" font-weight="normal" font-style="normal" fill="#151515" stroke="#151515" stroke-width="0.06" >0802</text>
<rect x="261.17" y="151.0" width="2.4" height="62.19999999999999" fill="#999999" stroke="none" stroke-width="0" />
<rect x="265.40000000000003" y="153.488" width="2.4" height="59.71199999999999" fill="#f0b2aa" stroke="none" stroke-width="0" />
<rect x="269.63" y="154.732" width="2.4" height="58.46799999999999" fill="#da8580" stroke="none" stroke-width="0" />
<rect x="273.86" y="159.708" width="2.4" height="53.49199999999999" fill="#b0102e" stroke="none" stroke-width="0" />
<line x1="268.62" y1="213.2" x2="268.62" y2="215.8" stroke="#222" stroke-width="1" />
<text x="0" y="0" transform="translate(270.62 219.4) rotate(-90)" font-size="6.2" text-anchor="end" font-weight="normal" font-style="normal" fill="#151515" stroke="#151515" stroke-width="0.06" >2543</text>
<rect x="281.26" y="151.0" width="2.4" height="62.19999999999999" fill="#999999" stroke="none" stroke-width="0" />
<rect x="285.49" y="151.62199999999999" width="2.4" height="61.578" fill="#f0b2aa" stroke="none" stroke-width="0" />
<rect x="289.71999999999997" y="154.732" width="2.4" height="58.46799999999999" fill="#da8580" stroke="none" stroke-width="0" />
<rect x="293.95" y="158.464" width="2.4" height="54.73599999999999" fill="#b0102e" stroke="none" stroke-width="0" />
<line x1="288.71" y1="213.2" x2="288.71" y2="215.8" stroke="#222" stroke-width="1" />
<text x="0" y="0" transform="translate(290.71 219.4) rotate(-90)" font-size="6.2" text-anchor="end" font-weight="normal" font-style="normal" fill="#151515" stroke="#151515" stroke-width="0.06" >1577</text>
<rect x="301.35" y="151.0" width="2.4" height="62.19999999999999" fill="#999999" stroke="none" stroke-width="0" />
<rect x="305.58000000000004" y="158.464" width="2.4" height="54.73599999999999" fill="#f0b2aa" stroke="none" stroke-width="0" />
<rect x="309.81" y="177.74599999999998" width="2.4" height="35.45400000000001" fill="#da8580" stroke="none" stroke-width="0" />
<rect x="314.04" y="190.18599999999998" width="2.4" height="23.01400000000001" fill="#b0102e" stroke="none" stroke-width="0" />
<line x1="308.8" y1="213.2" x2="308.8" y2="215.8" stroke="#222" stroke-width="1" />
<text x="0" y="0" transform="translate(310.8 219.4) rotate(-90)" font-size="6.2" text-anchor="end" font-weight="normal" font-style="normal" fill="#151515" stroke="#151515" stroke-width="0.06" >AA</text>
<rect x="321.44" y="151.0" width="2.4" height="62.19999999999999" fill="#999999" stroke="none" stroke-width="0" />
<rect x="325.67" y="153.488" width="2.4" height="59.71199999999999" fill="#f0b2aa" stroke="none" stroke-width="0" />
<rect x="329.9" y="152.86599999999999" width="2.4" height="60.334" fill="#da8580" stroke="none" stroke-width="0" />
<rect x="334.13" y="151.62199999999999" width="2.4" height="61.578" fill="#b0102e" stroke="none" stroke-width="0" />
<line x1="328.89" y1="213.2" x2="328.89" y2="215.8" stroke="#222" stroke-width="1" />
<text x="0" y="0" transform="translate(330.89 219.4) rotate(-90)" font-size="6.2" text-anchor="end" font-weight="normal" font-style="normal" fill="#151515" stroke="#151515" stroke-width="0.06" >B Cells 1</text>
<rect x="341.53" y="151.0" width="2.4" height="62.19999999999999" fill="#999999" stroke="none" stroke-width="0" />
<rect x="345.76" y="152.86599999999999" width="2.4" height="60.334" fill="#f0b2aa" stroke="none" stroke-width="0" />
<rect x="349.98999999999995" y="152.86599999999999" width="2.4" height="60.334" fill="#da8580" stroke="none" stroke-width="0" />
<rect x="354.21999999999997" y="154.10999999999999" width="2.4" height="59.09" fill="#b0102e" stroke="none" stroke-width="0" />
<line x1="348.97999999999996" y1="213.2" x2="348.97999999999996" y2="215.8" stroke="#222" stroke-width="1" />
<text x="0" y="0" transform="translate(350.97999999999996 219.4) rotate(-90)" font-size="6.2" text-anchor="end" font-weight="normal" font-style="normal" fill="#151515" stroke="#151515" stroke-width="0.06" >B Cells 2</text>
<rect x="361.62" y="151.0" width="2.4" height="62.19999999999999" fill="#999999" stroke="none" stroke-width="0" />
<rect x="365.85" y="148.512" width="2.4" height="64.68799999999999" fill="#f0b2aa" stroke="none" stroke-width="0" />
<rect x="370.08" y="151.0" width="2.4" height="62.19999999999999" fill="#da8580" stroke="none" stroke-width="0" />
<rect x="374.31" y="151.0" width="2.4" height="62.19999999999999" fill="#b0102e" stroke="none" stroke-width="0" />
<line x1="369.07" y1="213.2" x2="369.07" y2="215.8" stroke="#222" stroke-width="1" />
<text x="0" y="0" transform="translate(371.07 219.4) rotate(-90)" font-size="6.2" text-anchor="end" font-weight="normal" font-style="normal" fill="#151515" stroke="#151515" stroke-width="0.06" >B Cells 3</text>
<defs><pattern id="hatch" patternUnits="userSpaceOnUse" width="3.8" height="3.8" patternTransform="rotate(45)"><rect width="3.8" height="3.8" fill="#fafafa"/><line x1="1" y1="0" x2="1" y2="3.8" stroke="#727272" stroke-width="1.2"/></pattern></defs>
<rect x="197.4" y="252.2" width="20.183333333333334" height="9.800000000000011" fill="#f2f2f2" stroke="none" stroke-width="0" />
<rect x="217.58333333333334" y="252.2" width="20.183333333333334" height="9.800000000000011" fill="#ec3a1c" stroke="none" stroke-width="0" />
<rect x="237.76666666666668" y="252.2" width="20.183333333333334" height="9.800000000000011" fill="#ec3a1c" stroke="none" stroke-width="0" />
<rect x="257.95" y="252.2" width="20.183333333333334" height="9.800000000000011" fill="#959595" stroke="none" stroke-width="0" />
<rect x="278.1333333333333" y="252.2" width="20.183333333333334" height="9.800000000000011" fill="#959595" stroke="none" stroke-width="0" />
<rect x="298.31666666666666" y="252.2" width="20.183333333333334" height="9.800000000000011" fill="#959595" stroke="none" stroke-width="0" />
<rect x="197.4" y="262.0" width="20.183333333333334" height="9.600000000000023" fill="#f2f2f2" stroke="none" stroke-width="0" />
<rect x="217.58333333333334" y="262.0" width="20.183333333333334" height="9.600000000000023" fill="#f2f2f2" stroke="none" stroke-width="0" />
<rect x="237.76666666666668" y="262.0" width="20.183333333333334" height="9.600000000000023" fill="#f2f2f2" stroke="none" stroke-width="0" />
<rect x="257.95" y="262.0" width="20.183333333333334" height="9.600000000000023" fill="#f2f2f2" stroke="none" stroke-width="0" />
<rect x="278.1333333333333" y="262.0" width="20.183333333333334" height="9.600000000000023" fill="#f2f2f2" stroke="none" stroke-width="0" />
<rect x="298.31666666666666" y="262.0" width="20.183333333333334" height="9.600000000000023" fill="#ec3a1c" stroke="none" stroke-width="0" />
<rect x="197.4" y="271.6" width="20.183333333333334" height="9.599999999999966" fill="#f2f2f2" stroke="none" stroke-width="0" />
<rect x="217.58333333333334" y="271.6" width="20.183333333333334" height="9.599999999999966" fill="#5c5c5c" stroke="none" stroke-width="0" />
<rect x="237.76666666666668" y="271.6" width="20.183333333333334" height="9.599999999999966" fill="url(#hatch)" stroke="none" stroke-width="0" />
<rect x="257.95" y="271.6" width="20.183333333333334" height="9.599999999999966" fill="#5c5c5c" stroke="none" stroke-width="0" />
<rect x="278.1333333333333" y="271.6" width="20.183333333333334" height="9.599999999999966" fill="url(#hatch)" stroke="none" stroke-width="0" />
<rect x="298.31666666666666" y="271.6" width="20.183333333333334" height="9.599999999999966" fill="#5c5c5c" stroke="none" stroke-width="0" />
<line x1="196.9" y1="252.2" x2="319.0" y2="252.2" stroke="#222" stroke-width="1" />
<line x1="196.9" y1="262.0" x2="319.0" y2="262.0" stroke="#222" stroke-width="1" />
<line x1="196.9" y1="271.6" x2="319.0" y2="271.6" stroke="#222" stroke-width="1" />
<line x1="196.9" y1="281.2" x2="319.0" y2="281.2" stroke="#222" stroke-width="1" />
<line x1="197.4" y1="252.2" x2="197.4" y2="281.2" stroke="#222" stroke-width="1" />
<line x1="217.58333333333334" y1="252.2" x2="217.58333333333334" y2="281.2" stroke="#222" stroke-width="1" />
<line x1="237.76666666666668" y1="252.2" x2="237.76666666666668" y2="281.2" stroke="#222" stroke-width="1" />
<line x1="257.95" y1="252.2" x2="257.95" y2="281.2" stroke="#222" stroke-width="1" />
<line x1="278.1333333333333" y1="252.2" x2="278.1333333333333" y2="281.2" stroke="#222" stroke-width="1" />
<line x1="298.31666666666666" y1="252.2" x2="298.31666666666666" y2="281.2" stroke="#222" stroke-width="1" />
<line x1="318.5" y1="252.2" x2="318.5" y2="281.2" stroke="#222" stroke-width="1" />
<text x="0" y="0" transform="translate(194.6 259.2) scale(0.93 1)" font-size="6.4" text-anchor="end" font-weight="normal" font-style="normal" fill="#151515" stroke="#151515" stroke-width="0.14" >TP53</text>
<text x="0" y="0" transform="translate(194.6 269.0) scale(0.93 1)" font-size="6.4" text-anchor="end" font-weight="normal" font-style="normal" fill="#151515" stroke="#151515" stroke-width="0.14" >ATM</text>
<text x="0" y="0" transform="translate(194.6 278.7) scale(0.93 1)" font-size="6.4" text-anchor="end" font-weight="normal" font-style="normal" fill="#151515" stroke="#151515" stroke-width="0.14" >Treatment Status</text>
<text x="0" y="0" transform="translate(389.4 140.8) scale(0.94 1)" font-size="6.3" text-anchor="start" font-weight="normal" font-style="normal" fill="#262626" stroke="#262626" stroke-width="0.05" >Concentration of</text>
<text x="0" y="0" transform="translate(389.4 148.3) scale(0.94 1)" font-size="6.3" text-anchor="start" font-weight="normal" font-style="normal" fill="#262626" stroke="#262626" stroke-width="0.05" >Tegavivint (nM)</text>
<rect x="443.3" y="136.89999999999998" width="7.2" height="3.6" fill="#999999" stroke="none" stroke-width="0" />
<text x="0" y="0" transform="translate(452.7 140.89999999999998) scale(0.94 1)" font-size="6.3" text-anchor="start" font-weight="normal" font-style="normal" fill="#262626" stroke="#262626" stroke-width="0.05" >0</text>
<rect x="443.3" y="144.39999999999998" width="7.2" height="3.6" fill="#f0b2aa" stroke="none" stroke-width="0" />
<text x="0" y="0" transform="translate(452.7 148.39999999999998) scale(0.94 1)" font-size="6.3" text-anchor="start" font-weight="normal" font-style="normal" fill="#262626" stroke="#262626" stroke-width="0.05" >100</text>
<rect x="471.0" y="136.89999999999998" width="7.2" height="3.6" fill="#da8580" stroke="none" stroke-width="0" />
<text x="0" y="0" transform="translate(480.4 140.89999999999998) scale(0.94 1)" font-size="6.3" text-anchor="start" font-weight="normal" font-style="normal" fill="#262626" stroke="#262626" stroke-width="0.05" >250</text>
<rect x="471.0" y="144.39999999999998" width="7.2" height="3.6" fill="#b0102e" stroke="none" stroke-width="0" />
<text x="0" y="0" transform="translate(480.4 148.39999999999998) scale(0.94 1)" font-size="6.3" text-anchor="start" font-weight="normal" font-style="normal" fill="#262626" stroke="#262626" stroke-width="0.05" >500</text>
<text x="0" y="0" transform="translate(394.1 164.84) scale(0.94 1)" font-size="6.3" text-anchor="start" font-weight="normal" font-style="normal" fill="#262626" stroke="#262626" stroke-width="0.05" >MCL Genetic Alterations</text>
<rect x="386.5" y="168.68" width="17.5" height="14.680000000000007" fill="#ec3a1c" stroke="none" stroke-width="0" />
<line x1="404.0" y1="168.68" x2="404.0" y2="183.36" stroke="#333" stroke-width="1" />
<text x="0" y="0" transform="translate(411.5 179.12) scale(0.94 1)" font-size="6.3" text-anchor="start" font-weight="normal" font-style="normal" fill="#262626" stroke="#262626" stroke-width="0.05" >Mutation or loss of protein expression</text>
<rect x="386.5" y="183.36" width="17.5" height="14.679999999999978" fill="#959595" stroke="none" stroke-width="0" />
<line x1="404.0" y1="183.36" x2="404.0" y2="198.04" stroke="#333" stroke-width="1" />
<text x="0" y="0" transform="translate(411.5 193.79999999999998) scale(0.94 1)" font-size="6.3" text-anchor="start" font-weight="normal" font-style="normal" fill="#262626" stroke="#262626" stroke-width="0.05" >Wild type</text>
<rect x="386.5" y="198.04" width="17.5" height="14.680000000000007" fill="#f2f2f2" stroke="none" stroke-width="0" />
<line x1="404.0" y1="198.04" x2="404.0" y2="212.72" stroke="#333" stroke-width="1" />
<text x="0" y="0" transform="translate(411.5 208.48) scale(0.94 1)" font-size="6.3" text-anchor="start" font-weight="normal" font-style="normal" fill="#262626" stroke="#262626" stroke-width="0.05" >Unknown</text>
<text x="0" y="0" transform="translate(394.1 223.56) scale(0.94 1)" font-size="6.3" text-anchor="start" font-weight="normal" font-style="normal" fill="#262626" stroke="#262626" stroke-width="0.05" >Treatment Status</text>
<rect x="386.5" y="227.4" width="17.5" height="14.679999999999978" fill="url(#hatch)" stroke="none" stroke-width="0" />
<line x1="404.0" y1="227.4" x2="404.0" y2="242.07999999999998" stroke="#333" stroke-width="1" />
<text x="0" y="0" transform="translate(411.5 237.84) scale(0.94 1)" font-size="6.3" text-anchor="start" font-weight="normal" font-style="normal" fill="#262626" stroke="#262626" stroke-width="0.05" >Treatment naive</text>
<rect x="386.5" y="242.07999999999998" width="17.5" height="14.680000000000007" fill="#5c5c5c" stroke="none" stroke-width="0" />
<line x1="404.0" y1="242.07999999999998" x2="404.0" y2="256.76" stroke="#333" stroke-width="1" />
<text x="0" y="0" transform="translate(411.5 252.51999999999998) scale(0.94 1)" font-size="6.3" text-anchor="start" font-weight="normal" font-style="normal" fill="#262626" stroke="#262626" stroke-width="0.05" >Relapsed/refractory</text>
<rect x="386.5" y="256.76" width="17.5" height="14.680000000000007" fill="#f2f2f2" stroke="none" stroke-width="0" />
<line x1="404.0" y1="256.76" x2="404.0" y2="271.44" stroke="#333" stroke-width="1" />
<text x="0" y="0" transform="translate(411.5 267.20000000000005) scale(0.94 1)" font-size="6.3" text-anchor="start" font-weight="normal" font-style="normal" fill="#262626" stroke="#262626" stroke-width="0.05" >Unknown</text>
<line x1="386.0" y1="154.0" x2="513.7" y2="154.0" stroke="#333" stroke-width="1" />
<line x1="386.0" y1="168.68" x2="513.7" y2="168.68" stroke="#333" stroke-width="1" />
<line x1="386.0" y1="183.36" x2="513.7" y2="183.36" stroke="#333" stroke-width="1" />
<line x1="386.0" y1="198.04" x2="513.7" y2="198.04" stroke="#333" stroke-width="1" />
<line x1="386.0" y1="212.72" x2="513.7" y2="212.72" stroke="#333" stroke-width="1" />
<line x1="386.0" y1="227.4" x2="513.7" y2="227.4" stroke="#333" stroke-width="1" />
<line x1="386.0" y1="242.07999999999998" x2="513.7" y2="242.07999999999998" stroke="#333" stroke-width="1" />
<line x1="386.0" y1="256.76" x2="513.7" y2="256.76" stroke="#333" stroke-width="1" />
<line x1="386.0" y1="271.44" x2="513.7" y2="271.44" stroke="#333" stroke-width="1" />
<line x1="386.5" y1="154.0" x2="386.5" y2="271.44" stroke="#333" stroke-width="1" />
<line x1="513.2" y1="154.0" x2="513.2" y2="271.44" stroke="#333" stroke-width="1" />
<text x="0" y="0" transform="translate(7.55 305.9)" font-size="11" text-anchor="start" font-weight="bold" font-style="normal" fill="#111" stroke="#111" stroke-width="0.2" >F</text>
<line x1="51.5" y1="319.5" x2="51.5" y2="386.8" stroke="#222" stroke-width="1" />
<line x1="51" y1="386.3" x2="96.5" y2="386.3" stroke="#222" stroke-width="1" />
<line x1="48.5" y1="386.3" x2="51.5" y2="386.3" stroke="#222" stroke-width="1" />
<text x="0" y="0" transform="translate(46.4 389.1) scale(0.93 1)" font-size="6.4" text-anchor="end" font-weight="normal" font-style="normal" fill="#151515" stroke="#151515" stroke-width="0.14" >0</text>
<line x1="48.5" y1="364.3" x2="51.5" y2="364.3" stroke="#222" stroke-width="1" />
<text x="0" y="0" transform="translate(46.4 367.1) scale(0.93 1)" font-size="6.4" text-anchor="end" font-weight="normal" font-style="normal" fill="#151515" stroke="#151515" stroke-width="0.14" >500</text>
<line x1="48.5" y1="342.3" x2="51.5" y2="342.3" stroke="#222" stroke-width="1" />
<text x="0" y="0" transform="translate(46.4 345.1) scale(0.93 1)" font-size="6.4" text-anchor="end" font-weight="normal" font-style="normal" fill="#151515" stroke="#151515" stroke-width="0.14" >1000</text>
<line x1="48.5" y1="320.3" x2="51.5" y2="320.3" stroke="#222" stroke-width="1" />
<text x="0" y="0" transform="translate(46.4 323.1) scale(0.93 1)" font-size="6.4" text-anchor="end" font-weight="normal" font-style="normal" fill="#151515" stroke="#151515" stroke-width="0.14" >1500</text>
<text x="0" y="0" transform="translate(27.3 352) rotate(-90) scale(0.855 1)" font-size="6.9" text-anchor="middle" font-weight="normal" font-style="normal" fill="#222" stroke="#222" stroke-width="0.2" >Tumor volume (mm<tspan font-size="4" dy="-2">3</tspan><tspan dy="2">)</tspan></text>
<rect x="59.4" y="363.8" width="13" height="22.5" fill="#a58bbb" stroke="none" stroke-width="0" />
<line x1="65.8" y1="385" x2="65.8" y2="343.8" stroke="#222" stroke-width="1" />
<line x1="63.5" y1="343.8" x2="68.1" y2="343.8" stroke="#222" stroke-width="1" />
<circle cx="65.6" cy="326" r="1.4" fill="#111"/>
<circle cx="65.8" cy="344.3" r="1.4" fill="#111"/>
<circle cx="65.9" cy="367.8" r="1.4" fill="#111"/>
<circle cx="65.8" cy="372.7" r="1.4" fill="#111"/>
<circle cx="63.6" cy="375.6" r="1.4" fill="#111"/>
<circle cx="68.3" cy="377.3" r="1.4" fill="#111"/>
<circle cx="65.8" cy="383.3" r="1.4" fill="#111"/>
<rect x="79.3" y="383.4" width="13.2" height="2.900000000000034" fill="#d9b87a" stroke="none" stroke-width="0" />
<line x1="86.1" y1="386" x2="86.1" y2="379.7" stroke="#222" stroke-width="1" />
<line x1="83.2" y1="379.4" x2="89.2" y2="379.4" stroke="#111" stroke-width="1.1" />
<rect x="84.9" y="374.7" width="2.6" height="2.6" fill="#111" stroke="none" stroke-width="0" />
<rect x="79.0" y="384.09999999999997" width="2.6" height="2.6" fill="#111" stroke="none" stroke-width="0" />
<rect x="82.7" y="384.3" width="2.6" height="2.6" fill="#111" stroke="none" stroke-width="0" />
<rect x="88.2" y="383.7" width="2.6" height="2.6" fill="#111" stroke="none" stroke-width="0" />
<rect x="91.2" y="382.7" width="2.6" height="2.6" fill="#111" stroke="none" stroke-width="0" />
<rect x="83.2" y="380.5" width="2.6" height="2.6" fill="#111" stroke="none" stroke-width="0" />
<rect x="86.7" y="380.2" width="2.6" height="2.6" fill="#111" stroke="none" stroke-width="0" />
<rect x="85.0" y="382.5" width="2.6" height="2.6" fill="#111" stroke="none" stroke-width="0" />
<path d="M65.8 319.8 V316.6 H86.1 V373.5" stroke="#333" stroke-width="1" fill="none" />
<rect x="75.3" y="313.5" width="1.4" height="1.4" fill="#333" stroke="none" stroke-width="0" />
<text x="0" y="0" transform="translate(65.8 398.0) scale(0.93 1)" font-size="6.4" text-anchor="middle" font-weight="normal" font-style="normal" fill="#151515" stroke="#151515" stroke-width="0.14" >VC</text>
<text x="0" y="0" transform="translate(86.2 398.0) scale(0.93 1)" font-size="6.4" text-anchor="middle" font-weight="normal" font-style="normal" fill="#151515" stroke="#151515" stroke-width="0.14" >Tegavivint</text>
<text x="0" y="0" transform="translate(114.85 305.8)" font-size="11" text-anchor="start" font-weight="bold" font-style="normal" fill="#111" stroke="#111" stroke-width="0.2" >G</text>
<line x1="156.6" y1="309.5" x2="156.6" y2="386.7" stroke="#222" stroke-width="1" />
<line x1="156.1" y1="386.2" x2="297.6" y2="386.2" stroke="#222" stroke-width="1" />
<line x1="153.6" y1="386.2" x2="156.6" y2="386.2" stroke="#222" stroke-width="1" />
<text x="0" y="0" transform="translate(150.7 388.7) scale(0.93 1)" font-size="6.4" text-anchor="end" font-weight="normal" font-style="normal" fill="#444" stroke="#444" stroke-width="0.14" >0</text>
<line x1="153.6" y1="349.3" x2="156.6" y2="349.3" stroke="#222" stroke-width="1" />
<text x="0" y="0" transform="translate(150.7 351.8) scale(0.93 1)" font-size="6.4" text-anchor="end" font-weight="normal" font-style="normal" fill="#444" stroke="#444" stroke-width="0.14" >50</text>
<line x1="153.6" y1="312.4" x2="156.6" y2="312.4" stroke="#222" stroke-width="1" />
<text x="0" y="0" transform="translate(150.7 314.9) scale(0.93 1)" font-size="6.4" text-anchor="end" font-weight="normal" font-style="normal" fill="#444" stroke="#444" stroke-width="0.14" >100</text>
<line x1="155.0" y1="382.51" x2="156.6" y2="382.51" stroke="#222" stroke-width="0.8" />
<line x1="155.0" y1="378.82" x2="156.6" y2="378.82" stroke="#222" stroke-width="0.8" />
<line x1="155.0" y1="375.13" x2="156.6" y2="375.13" stroke="#222" stroke-width="0.8" />
<line x1="155.0" y1="371.44" x2="156.6" y2="371.44" stroke="#222" stroke-width="0.8" />
<line x1="155.0" y1="367.75" x2="156.6" y2="367.75" stroke="#222" stroke-width="0.8" />
<line x1="155.0" y1="364.06" x2="156.6" y2="364.06" stroke="#222" stroke-width="0.8" />
<line x1="155.0" y1="360.37" x2="156.6" y2="360.37" stroke="#222" stroke-width="0.8" />
<line x1="155.0" y1="356.68" x2="156.6" y2="356.68" stroke="#222" stroke-width="0.8" />
<line x1="155.0" y1="352.99" x2="156.6" y2="352.99" stroke="#222" stroke-width="0.8" />
<line x1="155.0" y1="345.61" x2="156.6" y2="345.61" stroke="#222" stroke-width="0.8" />
<line x1="155.0" y1="341.91999999999996" x2="156.6" y2="341.91999999999996" stroke="#222" stroke-width="0.8" />
<line x1="155.0" y1="338.23" x2="156.6" y2="338.23" stroke="#222" stroke-width="0.8" />
<line x1="155.0" y1="334.53999999999996" x2="156.6" y2="334.53999999999996" stroke="#222" stroke-width="0.8" />
<line x1="155.0" y1="330.84999999999997" x2="156.6" y2="330.84999999999997" stroke="#222" stroke-width="0.8" />
<line x1="155.0" y1="327.15999999999997" x2="156.6" y2="327.15999999999997" stroke="#222" stroke-width="0.8" />
<line x1="155.0" y1="323.46999999999997" x2="156.6" y2="323.46999999999997" stroke="#222" stroke-width="0.8" />
<line x1="155.0" y1="319.78" x2="156.6" y2="319.78" stroke="#222" stroke-width="0.8" />
<line x1="155.0" y1="316.09" x2="156.6" y2="316.09" stroke="#222" stroke-width="0.8" />
<line x1="156.6" y1="386.2" x2="156.6" y2="388.7" stroke="#222" stroke-width="0.8" />
<line x1="163.48" y1="386.2" x2="163.48" y2="387.8" stroke="#222" stroke-width="0.8" />
<line x1="170.35999999999999" y1="386.2" x2="170.35999999999999" y2="387.8" stroke="#222" stroke-width="0.8" />
<line x1="177.24" y1="386.2" x2="177.24" y2="387.8" stroke="#222" stroke-width="0.8" />
<line x1="184.12" y1="386.2" x2="184.12" y2="387.8" stroke="#222" stroke-width="0.8" />
<line x1="191.0" y1="386.2" x2="191.0" y2="388.7" stroke="#222" stroke-width="0.8" />
<line x1="197.88" y1="386.2" x2="197.88" y2="387.8" stroke="#222" stroke-width="0.8" />
<line x1="204.76" y1="386.2" x2="204.76" y2="387.8" stroke="#222" stroke-width="0.8" />
<line x1="211.64" y1="386.2" x2="211.64" y2="387.8" stroke="#222" stroke-width="0.8" />
<line x1="218.51999999999998" y1="386.2" x2="218.51999999999998" y2="387.8" stroke="#222" stroke-width="0.8" />
<line x1="225.39999999999998" y1="386.2" x2="225.39999999999998" y2="388.7" stroke="#222" stroke-width="0.8" />
<line x1="232.27999999999997" y1="386.2" x2="232.27999999999997" y2="387.8" stroke="#222" stroke-width="0.8" />
<line x1="239.16" y1="386.2" x2="239.16" y2="387.8" stroke="#222" stroke-width="0.8" />
<line x1="246.04" y1="386.2" x2="246.04" y2="387.8" stroke="#222" stroke-width="0.8" />
<line x1="252.92" y1="386.2" x2="252.92" y2="387.8" stroke="#222" stroke-width="0.8" />
<line x1="259.8" y1="386.2" x2="259.8" y2="388.7" stroke="#222" stroke-width="0.8" />
<line x1="266.68" y1="386.2" x2="266.68" y2="387.8" stroke="#222" stroke-width="0.8" />
<line x1="273.56" y1="386.2" x2="273.56" y2="387.8" stroke="#222" stroke-width="0.8" />
<line x1="280.44" y1="386.2" x2="280.44" y2="387.8" stroke="#222" stroke-width="0.8" />
<line x1="287.32" y1="386.2" x2="287.32" y2="387.8" stroke="#222" stroke-width="0.8" />
<line x1="294.2" y1="386.2" x2="294.2" y2="388.7" stroke="#222" stroke-width="0.8" />
<text x="0" y="0" transform="translate(156.6 397.8) scale(0.93 1)" font-size="6.4" text-anchor="middle" font-weight="normal" font-style="normal" fill="#151515" stroke="#151515" stroke-width="0.14" >0</text>
<text x="0" y="0" transform="translate(191.0 397.8) scale(0.93 1)" font-size="6.4" text-anchor="middle" font-weight="normal" font-style="normal" fill="#151515" stroke="#151515" stroke-width="0.14" >10</text>
<text x="0" y="0" transform="translate(225.39999999999998 397.8) scale(0.93 1)" font-size="6.4" text-anchor="middle" font-weight="normal" font-style="normal" fill="#151515" stroke="#151515" stroke-width="0.14" >20</text>
<text x="0" y="0" transform="translate(259.8 397.8) scale(0.93 1)" font-size="6.4" text-anchor="middle" font-weight="normal" font-style="normal" fill="#151515" stroke="#151515" stroke-width="0.14" >30</text>
<text x="0" y="0" transform="translate(294.2 397.8) scale(0.93 1)" font-size="6.4" text-anchor="middle" font-weight="normal" font-style="normal" fill="#151515" stroke="#151515" stroke-width="0.14" >40</text>
<text x="0" y="0" transform="translate(227.0 408.3)" font-size="7.4" text-anchor="middle" font-weight="normal" font-style="normal" fill="#222" stroke="#222" stroke-width="0.2" textLength="32.8" lengthAdjust="spacingAndGlyphs">Days elapsed</text>
<text x="0" y="0" transform="translate(135.2 347.5) rotate(-90)" font-size="7.4" text-anchor="middle" font-weight="normal" font-style="normal" fill="#222" stroke="#222" stroke-width="0.2" textLength="39.8" lengthAdjust="spacingAndGlyphs">Percent survival</text>
<path d="M211.8 333.4 H215.2 V343.5 H225.4 V354 H249.5 V365.2 H263.2 V375.4 H266.5 V386" stroke="#52aad0" stroke-width="0.9" fill="none" />
<path d="M156.6 312.4 H211.8 V365.2 H214.8 V386.2" stroke="#5a5a5a" stroke-width="0.9" fill="none" />
<circle cx="211.8" cy="333.4" r="0.75" fill="#333"/>
<circle cx="215.2" cy="343.5" r="0.75" fill="#333"/>
<circle cx="225.4" cy="354" r="0.75" fill="#333"/>
<circle cx="249.5" cy="365.2" r="0.75" fill="#333"/>
<circle cx="263.2" cy="375.4" r="0.75" fill="#333"/>
<circle cx="211.8" cy="365.2" r="0.75" fill="#333"/>
<polygon points="167.9,383.8 170.3,386.2 167.9,388.59999999999997 165.5,386.2" fill="#b00f2c"/>
<polygon points="178.1,383.8 180.5,386.2 178.1,388.59999999999997 175.7,386.2" fill="#b00f2c"/>
<polygon points="191.8,383.8 194.20000000000002,386.2 191.8,388.59999999999997 189.4,386.2" fill="#b00f2c"/>
<polygon points="202.0,383.8 204.4,386.2 202.0,388.59999999999997 199.6,386.2" fill="#b00f2c"/>
<polygon points="215.8,383.8 218.20000000000002,386.2 215.8,388.59999999999997 213.4,386.2" fill="#b00f2c"/>
<polygon points="225.9,383.8 228.3,386.2 225.9,388.59999999999997 223.5,386.2" fill="#b00f2c"/>
<polygon points="163.9,321.1 166.3,323.5 163.9,325.9 161.5,323.5" fill="#b00f2c"/>
<text x="0" y="0" transform="translate(169.2 325.6) scale(0.92 1)" font-size="6.5" text-anchor="start" font-weight="normal" font-style="normal" fill="#2a2a2a" stroke="#2a2a2a" stroke-width="0.1" >Tegavivint</text>
<text x="0" y="0" transform="translate(169.2 332.9) scale(0.92 1)" font-size="6.5" text-anchor="start" font-weight="normal" font-style="normal" fill="#2a2a2a" stroke="#2a2a2a" stroke-width="0.1" >treatment</text>
<text x="0" y="0" transform="translate(169.2 339.9) scale(0.92 1)" font-size="6.5" text-anchor="start" font-weight="normal" font-style="normal" fill="#2a2a2a" stroke="#2a2a2a" stroke-width="0.1" >(30mg/kg)</text>
<line x1="247.2" y1="316.2" x2="254.8" y2="316.2" stroke="#555" stroke-width="0.9" />
<circle cx="251" cy="316.2" r="0.75" fill="#333"/>
<line x1="247.2" y1="325.8" x2="254.8" y2="325.8" stroke="#52aad0" stroke-width="0.9" />
<circle cx="251" cy="325.8" r="0.75" fill="#333"/>
<text x="0" y="0" transform="translate(257.6 318.0) scale(0.97 1)" font-size="6.5" text-anchor="start" font-weight="normal" font-style="normal" fill="#2a2a2a" stroke="#2a2a2a" stroke-width="0.08" >Control</text>
<text x="0" y="0" transform="translate(257.6 327.6) scale(0.95 1)" font-size="6.5" text-anchor="start" font-weight="normal" font-style="normal" fill="#2a2a2a" stroke="#2a2a2a" stroke-width="0.08" >Treated</text>
<path d="M279.0 315.2 H284.4 V326.0 H278.6" stroke="#333" stroke-width="0.8" fill="none" />
<rect x="286.7" y="320.0" width="1.0" height="1.0" fill="#333" stroke="none" stroke-width="0" />
</svg>
<div id="frame"></div>
</div>
</body></html>
